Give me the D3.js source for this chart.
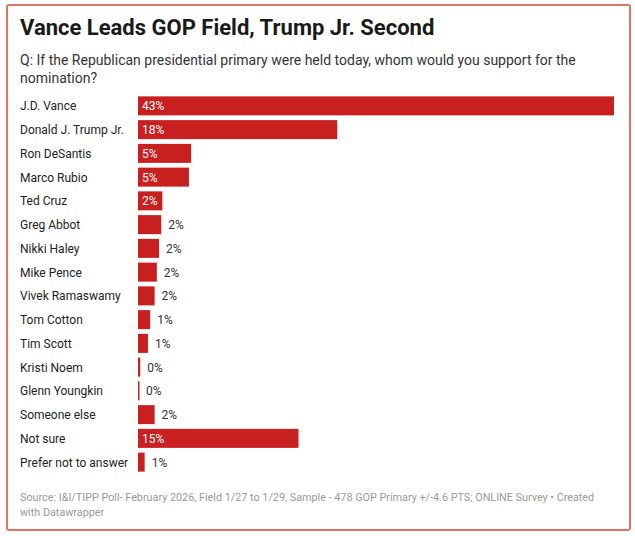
<!DOCTYPE html>
<html><head><meta charset="utf-8">
<script src="https://cdn.jsdelivr.net/npm/d3@7"></script>
<style>body{margin:0;background:#fff;font-family:Roboto,sans-serif}</style>
</head><body><svg id="c" width="635" height="536"></svg>
<script>
const names = ["J.D. Vance","Donald J. Trump Jr.","Ron DeSantis","Marco Rubio","Ted Cruz","Greg Abbot","Nikki Haley","Mike Pence","Vivek Ramaswamy","Tom Cotton","Tim Scott","Kristi Noem","Glenn Youngkin","Someone else","Not sure","Prefer not to answer"]
const values = [43,18,4.8,4.6,2.2,2.1,1.9,1.7,1.5,1.1,0.9,0.2,0.1,1.5,14.5,0.6]

const svg = d3.select("#c")
svg.append("rect").attr("x",7).attr("y",5).attr("width",623).attr("height",525)
  .attr("fill","#fff").attr("stroke","#e07565").attr("stroke-width",2).attr("rx",2)
svg.append("text").attr("x",20).attr("y",35).attr("font-size",22).attr("font-weight",700)
  .attr("fill","#1a1a1a").text("Vance Leads GOP Field, Trump Jr. Second")
svg.append("text").attr("x",20).attr("y",65).attr("font-size",14).attr("fill","#333")
  .text("Q: If the Republican presidential primary were held today, whom would you support for the")
svg.append("text").attr("x",20).attr("y",83).attr("font-size",14).attr("fill","#333").text("nomination?")

const x = d3.scaleLinear().domain([0,43]).range([138,614])
const y = d3.scaleBand().domain(names).range([94,474]).paddingInner(0.2).paddingOuter(0.1)

const row = svg.selectAll("g.r").data(names).enter().append("g")
row.append("text").attr("x",20).attr("y",d=>y(d)+y.bandwidth()/2+4.5)
  .attr("font-size",12).attr("fill","#222").text(d=>d)
row.append("rect").attr("x",x(0)).attr("y",d=>y(d))
  .attr("width",(d,i)=>Math.max(1.5,x(values[i])-x(0))).attr("height",y.bandwidth()).attr("fill","#c8201f")
row.append("text")
  .attr("x",(d,i)=>values[i]>=2.2?x(0)+4:x(values[i])+7)
  .attr("y",d=>y(d)+y.bandwidth()/2+4.5).attr("font-size",12)
  .attr("fill",(d,i)=>values[i]>=2.2?"#fff":"#333")
  .text((d,i)=>Math.round(values[i])+"%")

svg.append("text").attr("x",20).attr("y",501).attr("font-size",10.8).attr("fill","#999")
  .text("Source: I&I/TIPP Poll- February 2026, Field 1/27 to 1/29, Sample - 478 GOP Primary +/-4.6 PTS; ONLINE Survey • Created")
svg.append("text").attr("x",20).attr("y",516).attr("font-size",10.8).attr("fill","#999").text("with Datawrapper")
</script></body></html>
